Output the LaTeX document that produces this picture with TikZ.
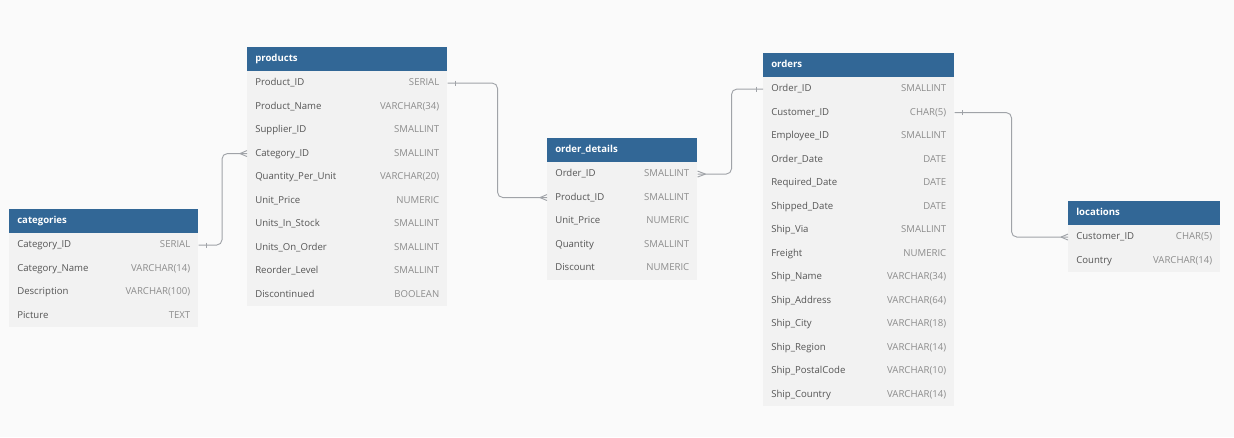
\documentclass[tikz,border=0pt]{standalone}
\usepackage{fontspec}
\setmainfont{Open Sans}
\usetikzlibrary{calc}
\definecolor{headblue}{RGB}{50,103,150}
\definecolor{rowgray}{RGB}{242,242,242}
\definecolor{bggray}{RGB}{250,250,250}
\definecolor{namegray}{RGB}{85,85,85}
\definecolor{typegray}{RGB}{140,140,140}
\definecolor{linegray}{RGB}{160,163,168}

% one table: node name, title, x, y (top left, px), width (px), fields
\newcommand{\dbtable}[6]{%
  \pgfmathsetlengthmacro{\fieldw}{(#5-16)*0.75pt}
  \node[head, text width=\fieldw] (#1) at (#3,#4) {#2};
  \foreach \f/\t [count=\i] in {#6}
    \node[field, text width=\fieldw] (#1-\i) at ($(#1.south west)+(0,{23.5*(\i-1)})$)
      {\f\hfill{\color{typegray}\t}};
}

\begin{document}
\begin{tikzpicture}[x=0.75pt,y=-0.75pt,
  head/.style={anchor=north west, fill=headblue, text=white, font=\fontsize{7.2}{9}\selectfont\bfseries,
    minimum height=23.5*0.75pt, inner xsep=6pt, inner ysep=0pt, text height=5.6pt, text depth=1.6pt},
  field/.style={anchor=north west, fill=rowgray, text=namegray, font=\fontsize{7.2}{9}\selectfont,
    minimum height=23.5*0.75pt, inner xsep=6pt, inner ysep=0pt, text height=5.6pt, text depth=1.6pt},
  rel/.style={draw=linegray, line width=0.7pt, rounded corners=4pt}]

\fill[bggray] (0,0) rectangle (1234,437);

%tables:
\dbtable{categories}{categories}{9}{209}{189}{%
  Category\_ID/SERIAL, Category\_Name/VARCHAR(14), Description/VARCHAR(100), Picture/TEXT}
\dbtable{products}{products}{247}{47}{200}{%
  Product\_ID/SERIAL, Product\_Name/VARCHAR(34), Supplier\_ID/SMALLINT, Category\_ID/SMALLINT,
  Quantity\_Per\_Unit/VARCHAR(20), Unit\_Price/NUMERIC, Units\_In\_Stock/SMALLINT,
  Units\_On\_Order/SMALLINT, Reorder\_Level/SMALLINT, Discontinued/BOOLEAN}
\dbtable{details}{order\_details}{547}{138}{150}{%
  Order\_ID/SMALLINT, Product\_ID/SMALLINT, Unit\_Price/NUMERIC, Quantity/SMALLINT, Discount/NUMERIC}
\dbtable{orders}{orders}{763}{53}{191}{%
  Order\_ID/SMALLINT, Customer\_ID/CHAR(5), Employee\_ID/SMALLINT, Order\_Date/DATE,
  Required\_Date/DATE, Shipped\_Date/DATE, Ship\_Via/SMALLINT, Freight/NUMERIC,
  Ship\_Name/VARCHAR(34), Ship\_Address/VARCHAR(64), Ship\_City/VARCHAR(18),
  Ship\_Region/VARCHAR(14), Ship\_PostalCode/VARCHAR(10), Ship\_Country/VARCHAR(14)}
\dbtable{locations}{locations}{1068}{201}{152}{%
  Customer\_ID/CHAR(5), Country/VARCHAR(14)}

%relations:
\draw[rel] (categories-1.east) -- ++(23.5,0) |- (products-4.west);
\draw[rel] (products-1.east) -- ++(50,0) |- (details-2.west);
\draw[rel] (details-1.east) -- ++(34,0) |- (orders-1.west);
\draw[rel] (orders-2.east) -- ++(57,0) |- (locations-1.west);

%one side
\draw[rel] ([shift={(8,-2.5)}]categories-1.east) -- ++(0,5);
\draw[rel] ([shift={(8,-2.5)}]products-1.east) -- ++(0,5);
\draw[rel] ([shift={(-7,-2.5)}]orders-1.west) -- ++(0,5);
\draw[rel] ([shift={(8,-2.5)}]orders-2.east) -- ++(0,5);
%many side
\draw[rel] ([shift={(-7,0)}]products-4.west) -- ++(7,-3) ++(-7,3) -- ++(7,3);
\draw[rel] ([shift={(-7,0)}]details-2.west) -- ++(7,-3) ++(-7,3) -- ++(7,3);
\draw[rel] ([shift={(8,0)}]details-1.east) -- ++(-8,-3) ++(8,3) -- ++(-8,3);
\draw[rel] ([shift={(-7,0)}]locations-1.west) -- ++(7,-3) ++(-7,3) -- ++(7,3);

\end{tikzpicture}
\end{document}
